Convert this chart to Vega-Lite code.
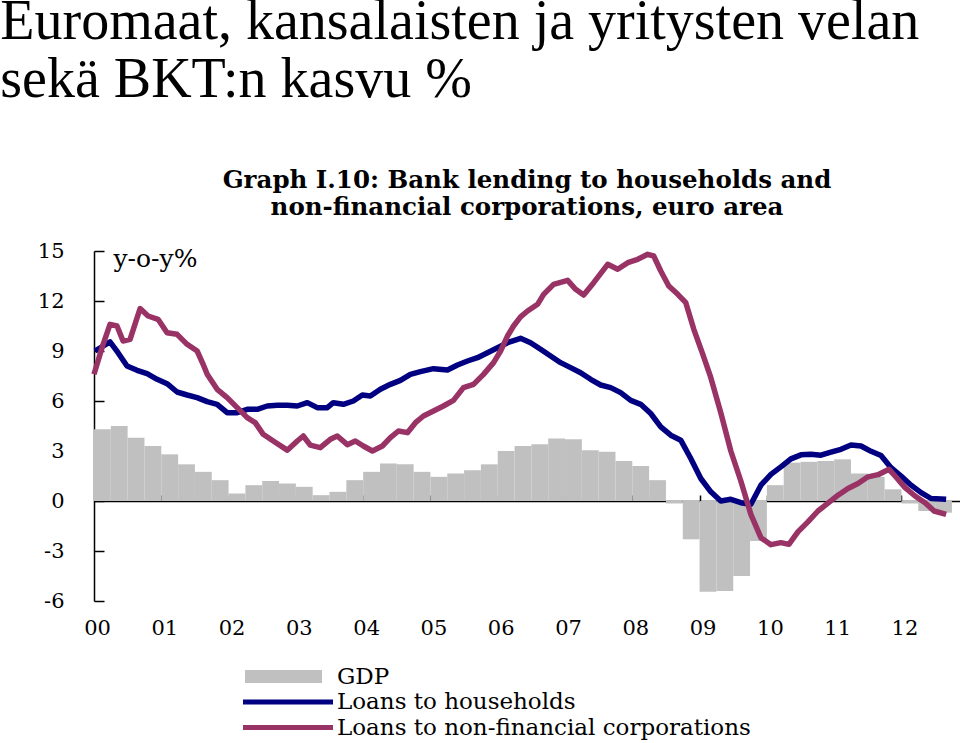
{
  "$schema": "https://vega.github.io/schema/vega-lite/v6.json",
  "background": "white",
  "padding": {"left": 0, "top": -7, "right": 0, "bottom": 0},
  "title": {
    "text": ["Euromaat, kansalaisten ja yritysten velan", "sekä BKT:n kasvu %"],
    "anchor": "start",
    "font": "Liberation Serif",
    "fontSize": 56,
    "fontWeight": "normal",
    "color": "black",
    "lineHeight": 58,
    "dx": -37,
    "offset": 59
  },
  "config": {"view": {"stroke": null}, "concat": {"spacing": 0}},
  "datasets": {
    "gdp": [
      {"series": "GDP", "start": 2000.00, "end": 2000.25, "value": 4.3},
      {"series": "GDP", "start": 2000.25, "end": 2000.50, "value": 4.5},
      {"series": "GDP", "start": 2000.50, "end": 2000.75, "value": 3.8},
      {"series": "GDP", "start": 2000.75, "end": 2001.00, "value": 3.3},
      {"series": "GDP", "start": 2001.00, "end": 2001.25, "value": 2.8},
      {"series": "GDP", "start": 2001.25, "end": 2001.50, "value": 2.2},
      {"series": "GDP", "start": 2001.50, "end": 2001.75, "value": 1.75},
      {"series": "GDP", "start": 2001.75, "end": 2002.00, "value": 1.25},
      {"series": "GDP", "start": 2002.00, "end": 2002.25, "value": 0.45},
      {"series": "GDP", "start": 2002.25, "end": 2002.50, "value": 0.95},
      {"series": "GDP", "start": 2002.50, "end": 2002.75, "value": 1.2},
      {"series": "GDP", "start": 2002.75, "end": 2003.00, "value": 1.05},
      {"series": "GDP", "start": 2003.00, "end": 2003.25, "value": 0.85},
      {"series": "GDP", "start": 2003.25, "end": 2003.50, "value": 0.35},
      {"series": "GDP", "start": 2003.50, "end": 2003.75, "value": 0.55},
      {"series": "GDP", "start": 2003.75, "end": 2004.00, "value": 1.25},
      {"series": "GDP", "start": 2004.00, "end": 2004.25, "value": 1.75},
      {"series": "GDP", "start": 2004.25, "end": 2004.50, "value": 2.25},
      {"series": "GDP", "start": 2004.50, "end": 2004.75, "value": 2.2},
      {"series": "GDP", "start": 2004.75, "end": 2005.00, "value": 1.75},
      {"series": "GDP", "start": 2005.00, "end": 2005.25, "value": 1.45},
      {"series": "GDP", "start": 2005.25, "end": 2005.50, "value": 1.65},
      {"series": "GDP", "start": 2005.50, "end": 2005.75, "value": 1.85},
      {"series": "GDP", "start": 2005.75, "end": 2006.00, "value": 2.2},
      {"series": "GDP", "start": 2006.00, "end": 2006.25, "value": 3.0},
      {"series": "GDP", "start": 2006.25, "end": 2006.50, "value": 3.3},
      {"series": "GDP", "start": 2006.50, "end": 2006.75, "value": 3.4},
      {"series": "GDP", "start": 2006.75, "end": 2007.00, "value": 3.75},
      {"series": "GDP", "start": 2007.00, "end": 2007.25, "value": 3.7},
      {"series": "GDP", "start": 2007.25, "end": 2007.50, "value": 3.05},
      {"series": "GDP", "start": 2007.50, "end": 2007.75, "value": 2.95},
      {"series": "GDP", "start": 2007.75, "end": 2008.00, "value": 2.4},
      {"series": "GDP", "start": 2008.00, "end": 2008.25, "value": 2.1},
      {"series": "GDP", "start": 2008.25, "end": 2008.50, "value": 1.25},
      {"series": "GDP", "start": 2008.50, "end": 2008.75, "value": -0.15},
      {"series": "GDP", "start": 2008.75, "end": 2009.00, "value": -2.3},
      {"series": "GDP", "start": 2009.00, "end": 2009.25, "value": -5.45},
      {"series": "GDP", "start": 2009.25, "end": 2009.50, "value": -5.4},
      {"series": "GDP", "start": 2009.50, "end": 2009.75, "value": -4.5},
      {"series": "GDP", "start": 2009.75, "end": 2010.00, "value": -2.4},
      {"series": "GDP", "start": 2010.00, "end": 2010.25, "value": 0.95},
      {"series": "GDP", "start": 2010.25, "end": 2010.50, "value": 2.3},
      {"series": "GDP", "start": 2010.50, "end": 2010.75, "value": 2.35},
      {"series": "GDP", "start": 2010.75, "end": 2011.00, "value": 2.4},
      {"series": "GDP", "start": 2011.00, "end": 2011.25, "value": 2.5},
      {"series": "GDP", "start": 2011.25, "end": 2011.50, "value": 1.65},
      {"series": "GDP", "start": 2011.50, "end": 2011.75, "value": 1.45},
      {"series": "GDP", "start": 2011.75, "end": 2012.00, "value": 0.7},
      {"series": "GDP", "start": 2012.00, "end": 2012.25, "value": -0.15},
      {"series": "GDP", "start": 2012.25, "end": 2012.50, "value": -0.6},
      {"series": "GDP", "start": 2012.50, "end": 2012.75, "value": -0.7}
    ],
    "loans": [
      {"series": "Loans to households", "year": 2000.015, "value": 9.0},
      {"series": "Loans to households", "year": 2000.238, "value": 9.55},
      {"series": "Loans to households", "year": 2000.357, "value": 8.9},
      {"series": "Loans to households", "year": 2000.491, "value": 8.1},
      {"series": "Loans to households", "year": 2000.640, "value": 7.84},
      {"series": "Loans to households", "year": 2000.789, "value": 7.64},
      {"series": "Loans to households", "year": 2000.938, "value": 7.3},
      {"series": "Loans to households", "year": 2001.086, "value": 7.04},
      {"series": "Loans to households", "year": 2001.235, "value": 6.54},
      {"series": "Loans to households", "year": 2001.384, "value": 6.36},
      {"series": "Loans to households", "year": 2001.533, "value": 6.2},
      {"series": "Loans to households", "year": 2001.682, "value": 5.96},
      {"series": "Loans to households", "year": 2001.830, "value": 5.8},
      {"series": "Loans to households", "year": 2001.979, "value": 5.3},
      {"series": "Loans to households", "year": 2002.128, "value": 5.3},
      {"series": "Loans to households", "year": 2002.277, "value": 5.5},
      {"series": "Loans to households", "year": 2002.426, "value": 5.5},
      {"series": "Loans to households", "year": 2002.574, "value": 5.7},
      {"series": "Loans to households", "year": 2002.723, "value": 5.74},
      {"series": "Loans to households", "year": 2002.872, "value": 5.74},
      {"series": "Loans to households", "year": 2003.021, "value": 5.7},
      {"series": "Loans to households", "year": 2003.170, "value": 5.9},
      {"series": "Loans to households", "year": 2003.318, "value": 5.6},
      {"series": "Loans to households", "year": 2003.467, "value": 5.6},
      {"series": "Loans to households", "year": 2003.557, "value": 5.9},
      {"series": "Loans to households", "year": 2003.705, "value": 5.8},
      {"series": "Loans to households", "year": 2003.854, "value": 6.0},
      {"series": "Loans to households", "year": 2003.988, "value": 6.36},
      {"series": "Loans to households", "year": 2004.107, "value": 6.3},
      {"series": "Loans to households", "year": 2004.256, "value": 6.7},
      {"series": "Loans to households", "year": 2004.405, "value": 7.0},
      {"series": "Loans to households", "year": 2004.554, "value": 7.24},
      {"series": "Loans to households", "year": 2004.702, "value": 7.6},
      {"series": "Loans to households", "year": 2004.851, "value": 7.76},
      {"series": "Loans to households", "year": 2005.045, "value": 7.94},
      {"series": "Loans to households", "year": 2005.253, "value": 7.86},
      {"series": "Loans to households", "year": 2005.402, "value": 8.16},
      {"series": "Loans to households", "year": 2005.551, "value": 8.4},
      {"series": "Loans to households", "year": 2005.699, "value": 8.6},
      {"series": "Loans to households", "year": 2005.848, "value": 8.9},
      {"series": "Loans to households", "year": 2005.997, "value": 9.2},
      {"series": "Loans to households", "year": 2006.146, "value": 9.5},
      {"series": "Loans to households", "year": 2006.295, "value": 9.7},
      {"series": "Loans to households", "year": 2006.339, "value": 9.76},
      {"series": "Loans to households", "year": 2006.488, "value": 9.5},
      {"series": "Loans to households", "year": 2006.637, "value": 9.1},
      {"series": "Loans to households", "year": 2006.786, "value": 8.7},
      {"series": "Loans to households", "year": 2006.935, "value": 8.3},
      {"series": "Loans to households", "year": 2007.083, "value": 8.0},
      {"series": "Loans to households", "year": 2007.232, "value": 7.7},
      {"series": "Loans to households", "year": 2007.381, "value": 7.3},
      {"series": "Loans to households", "year": 2007.530, "value": 6.96},
      {"series": "Loans to households", "year": 2007.679, "value": 6.8},
      {"series": "Loans to households", "year": 2007.827, "value": 6.5},
      {"series": "Loans to households", "year": 2007.976, "value": 6.04},
      {"series": "Loans to households", "year": 2008.125, "value": 5.8},
      {"series": "Loans to households", "year": 2008.274, "value": 5.25},
      {"series": "Loans to households", "year": 2008.423, "value": 4.45},
      {"series": "Loans to households", "year": 2008.571, "value": 3.95},
      {"series": "Loans to households", "year": 2008.720, "value": 3.65},
      {"series": "Loans to households", "year": 2008.869, "value": 2.55},
      {"series": "Loans to households", "year": 2009.018, "value": 1.35},
      {"series": "Loans to households", "year": 2009.167, "value": 0.55},
      {"series": "Loans to households", "year": 2009.315, "value": 0.0},
      {"series": "Loans to households", "year": 2009.464, "value": 0.1},
      {"series": "Loans to households", "year": 2009.613, "value": -0.1},
      {"series": "Loans to households", "year": 2009.762, "value": -0.2},
      {"series": "Loans to households", "year": 2009.911, "value": 0.95},
      {"series": "Loans to households", "year": 2010.060, "value": 1.6},
      {"series": "Loans to households", "year": 2010.208, "value": 2.05},
      {"series": "Loans to households", "year": 2010.357, "value": 2.53},
      {"series": "Loans to households", "year": 2010.506, "value": 2.77},
      {"series": "Loans to households", "year": 2010.655, "value": 2.8},
      {"series": "Loans to households", "year": 2010.804, "value": 2.75},
      {"series": "Loans to households", "year": 2010.952, "value": 2.93},
      {"series": "Loans to households", "year": 2011.101, "value": 3.1},
      {"series": "Loans to households", "year": 2011.250, "value": 3.36},
      {"series": "Loans to households", "year": 2011.399, "value": 3.3},
      {"series": "Loans to households", "year": 2011.548, "value": 2.98},
      {"series": "Loans to households", "year": 2011.696, "value": 2.73},
      {"series": "Loans to households", "year": 2011.845, "value": 2.0},
      {"series": "Loans to households", "year": 2011.994, "value": 1.5},
      {"series": "Loans to households", "year": 2012.143, "value": 0.95},
      {"series": "Loans to households", "year": 2012.292, "value": 0.5},
      {"series": "Loans to households", "year": 2012.440, "value": 0.15},
      {"series": "Loans to households", "year": 2012.664, "value": 0.1},
      {"series": "Loans to non-financial corporations", "year": 2000.000, "value": 7.6},
      {"series": "Loans to non-financial corporations", "year": 2000.119, "value": 9.2},
      {"series": "Loans to non-financial corporations", "year": 2000.238, "value": 10.6},
      {"series": "Loans to non-financial corporations", "year": 2000.342, "value": 10.5},
      {"series": "Loans to non-financial corporations", "year": 2000.432, "value": 9.6},
      {"series": "Loans to non-financial corporations", "year": 2000.536, "value": 9.7},
      {"series": "Loans to non-financial corporations", "year": 2000.685, "value": 11.55},
      {"series": "Loans to non-financial corporations", "year": 2000.804, "value": 11.1},
      {"series": "Loans to non-financial corporations", "year": 2000.952, "value": 10.9},
      {"series": "Loans to non-financial corporations", "year": 2001.086, "value": 10.1},
      {"series": "Loans to non-financial corporations", "year": 2001.235, "value": 10.0},
      {"series": "Loans to non-financial corporations", "year": 2001.384, "value": 9.4},
      {"series": "Loans to non-financial corporations", "year": 2001.533, "value": 9.0},
      {"series": "Loans to non-financial corporations", "year": 2001.622, "value": 8.2},
      {"series": "Loans to non-financial corporations", "year": 2001.682, "value": 7.6},
      {"series": "Loans to non-financial corporations", "year": 2001.830, "value": 6.7},
      {"series": "Loans to non-financial corporations", "year": 2001.979, "value": 6.2},
      {"series": "Loans to non-financial corporations", "year": 2002.128, "value": 5.6},
      {"series": "Loans to non-financial corporations", "year": 2002.277, "value": 5.0},
      {"series": "Loans to non-financial corporations", "year": 2002.396, "value": 4.7},
      {"series": "Loans to non-financial corporations", "year": 2002.515, "value": 4.0},
      {"series": "Loans to non-financial corporations", "year": 2002.664, "value": 3.6},
      {"series": "Loans to non-financial corporations", "year": 2002.872, "value": 3.05},
      {"series": "Loans to non-financial corporations", "year": 2003.021, "value": 3.6},
      {"series": "Loans to non-financial corporations", "year": 2003.110, "value": 3.9},
      {"series": "Loans to non-financial corporations", "year": 2003.214, "value": 3.35},
      {"series": "Loans to non-financial corporations", "year": 2003.363, "value": 3.2},
      {"series": "Loans to non-financial corporations", "year": 2003.512, "value": 3.7},
      {"series": "Loans to non-financial corporations", "year": 2003.616, "value": 3.9},
      {"series": "Loans to non-financial corporations", "year": 2003.765, "value": 3.38},
      {"series": "Loans to non-financial corporations", "year": 2003.884, "value": 3.6},
      {"series": "Loans to non-financial corporations", "year": 2004.003, "value": 3.3},
      {"series": "Loans to non-financial corporations", "year": 2004.137, "value": 3.0},
      {"series": "Loans to non-financial corporations", "year": 2004.286, "value": 3.3},
      {"series": "Loans to non-financial corporations", "year": 2004.405, "value": 3.8},
      {"series": "Loans to non-financial corporations", "year": 2004.524, "value": 4.2},
      {"series": "Loans to non-financial corporations", "year": 2004.658, "value": 4.1},
      {"series": "Loans to non-financial corporations", "year": 2004.777, "value": 4.7},
      {"series": "Loans to non-financial corporations", "year": 2004.896, "value": 5.1},
      {"series": "Loans to non-financial corporations", "year": 2005.045, "value": 5.4},
      {"series": "Loans to non-financial corporations", "year": 2005.193, "value": 5.7},
      {"series": "Loans to non-financial corporations", "year": 2005.342, "value": 6.04},
      {"series": "Loans to non-financial corporations", "year": 2005.491, "value": 6.8},
      {"series": "Loans to non-financial corporations", "year": 2005.640, "value": 7.0},
      {"series": "Loans to non-financial corporations", "year": 2005.789, "value": 7.6},
      {"series": "Loans to non-financial corporations", "year": 2005.938, "value": 8.3},
      {"series": "Loans to non-financial corporations", "year": 2006.042, "value": 9.0},
      {"series": "Loans to non-financial corporations", "year": 2006.146, "value": 9.9},
      {"series": "Loans to non-financial corporations", "year": 2006.235, "value": 10.5},
      {"series": "Loans to non-financial corporations", "year": 2006.339, "value": 11.05},
      {"series": "Loans to non-financial corporations", "year": 2006.443, "value": 11.4},
      {"series": "Loans to non-financial corporations", "year": 2006.592, "value": 11.8},
      {"series": "Loans to non-financial corporations", "year": 2006.682, "value": 12.4},
      {"series": "Loans to non-financial corporations", "year": 2006.830, "value": 13.0},
      {"series": "Loans to non-financial corporations", "year": 2007.039, "value": 13.24},
      {"series": "Loans to non-financial corporations", "year": 2007.158, "value": 12.7},
      {"series": "Loans to non-financial corporations", "year": 2007.277, "value": 12.36},
      {"series": "Loans to non-financial corporations", "year": 2007.426, "value": 13.1},
      {"series": "Loans to non-financial corporations", "year": 2007.634, "value": 14.2},
      {"series": "Loans to non-financial corporations", "year": 2007.783, "value": 13.9},
      {"series": "Loans to non-financial corporations", "year": 2007.932, "value": 14.3},
      {"series": "Loans to non-financial corporations", "year": 2008.080, "value": 14.5},
      {"series": "Loans to non-financial corporations", "year": 2008.229, "value": 14.8},
      {"series": "Loans to non-financial corporations", "year": 2008.318, "value": 14.7},
      {"series": "Loans to non-financial corporations", "year": 2008.423, "value": 13.8},
      {"series": "Loans to non-financial corporations", "year": 2008.542, "value": 12.9},
      {"series": "Loans to non-financial corporations", "year": 2008.676, "value": 12.4},
      {"series": "Loans to non-financial corporations", "year": 2008.795, "value": 11.9},
      {"series": "Loans to non-financial corporations", "year": 2008.914, "value": 10.3},
      {"series": "Loans to non-financial corporations", "year": 2009.048, "value": 8.8},
      {"series": "Loans to non-financial corporations", "year": 2009.167, "value": 7.4},
      {"series": "Loans to non-financial corporations", "year": 2009.315, "value": 5.3},
      {"series": "Loans to non-financial corporations", "year": 2009.464, "value": 3.0},
      {"series": "Loans to non-financial corporations", "year": 2009.613, "value": 1.2},
      {"series": "Loans to non-financial corporations", "year": 2009.762, "value": -0.8},
      {"series": "Loans to non-financial corporations", "year": 2009.911, "value": -2.2},
      {"series": "Loans to non-financial corporations", "year": 2010.060, "value": -2.62},
      {"series": "Loans to non-financial corporations", "year": 2010.208, "value": -2.5},
      {"series": "Loans to non-financial corporations", "year": 2010.327, "value": -2.6},
      {"series": "Loans to non-financial corporations", "year": 2010.461, "value": -1.85},
      {"series": "Loans to non-financial corporations", "year": 2010.610, "value": -1.25},
      {"series": "Loans to non-financial corporations", "year": 2010.759, "value": -0.6},
      {"series": "Loans to non-financial corporations", "year": 2010.908, "value": -0.13},
      {"series": "Loans to non-financial corporations", "year": 2011.057, "value": 0.35},
      {"series": "Loans to non-financial corporations", "year": 2011.205, "value": 0.75},
      {"series": "Loans to non-financial corporations", "year": 2011.354, "value": 1.05},
      {"series": "Loans to non-financial corporations", "year": 2011.503, "value": 1.45},
      {"series": "Loans to non-financial corporations", "year": 2011.652, "value": 1.58},
      {"series": "Loans to non-financial corporations", "year": 2011.815, "value": 1.9},
      {"series": "Loans to non-financial corporations", "year": 2011.905, "value": 1.5},
      {"series": "Loans to non-financial corporations", "year": 2012.054, "value": 0.8},
      {"series": "Loans to non-financial corporations", "year": 2012.202, "value": 0.3},
      {"series": "Loans to non-financial corporations", "year": 2012.351, "value": -0.1},
      {"series": "Loans to non-financial corporations", "year": 2012.485, "value": -0.6},
      {"series": "Loans to non-financial corporations", "year": 2012.664, "value": -0.8}
    ]
  },
  "vconcat": [
    {
      "width": 866,
      "height": 350,
      "title": {
        "text": ["Graph I.10: Bank lending to households and", "non-financial corporations, euro area"],
        "anchor": "middle",
        "font": "DejaVu Serif",
        "fontSize": 24.5,
        "fontWeight": "bold",
        "color": "black",
        "lineHeight": 27,
        "offset": 20
      },
      "layer": [
        {
          "data": {"name": "gdp"},
          "mark": {"type": "bar"},
          "encoding": {
            "x": {
              "field": "start",
              "type": "quantitative",
              "scale": {"domain": [2000, 2012.87], "nice": false, "zero": false},
              "axis": {
                "orient": "bottom",
                "values": [2000, 2001, 2002, 2003, 2004, 2005, 2006, 2007, 2008, 2009, 2010, 2011, 2012],
                "format": "d",
                "labelExpr": "slice(datum.label, 2)",
                "domain": false,
                "ticks": false,
                "grid": false,
                "labelFont": "DejaVu Serif",
                "labelFontSize": 21,
                "labelColor": "black",
                "labelPadding": 16,
                "labelOffset": 3,
                "labelFlush": false,
                "title": null
              }
            },
            "x2": {"field": "end"},
            "y": {
              "field": "value",
              "type": "quantitative",
              "scale": {"domain": [-6, 15], "nice": false, "zero": false},
              "axis": {
                "values": [-6, -3, 0, 3, 6, 9, 12, 15],
                "labelExpr": "toString(datum.value)",
                "domain": true,
                "domainColor": "black",
                "domainWidth": 1.5,
                "ticks": true,
                "tickSize": -10,
                "tickColor": "black",
                "tickWidth": 1.5,
                "grid": false,
                "labelFont": "DejaVu Serif",
                "labelFontSize": 21,
                "labelColor": "black",
                "labelPadding": 40,
                "labelFlush": false,
                "title": "y-o-y%",
                "titleAngle": 0,
                "titleX": 19,
                "titleY": 7,
                "titleAlign": "left",
                "titleBaseline": "middle",
                "titleFont": "DejaVu Serif",
                "titleFontSize": 25,
                "titleFontWeight": "normal",
                "titleColor": "black"
              }
            },
            "y2": {"datum": 0},
            "color": {
              "field": "series",
              "type": "nominal",
              "scale": {
                "domain": ["GDP", "Loans to households", "Loans to non-financial corporations"],
                "range": ["#c0c0c0", "#000080", "#993366"]
              },
              "legend": {
                "orient": "none",
                "legendX": 149,
                "legendY": 413,
                "title": null,
                "symbolType": "stroke",
                "symbolSize": 100,
                "symbolStrokeWidth": 5,
                "symbolOpacity": 1,
                "symbolOffset": 33.5,
                "clipHeight": 25,
                "labelFont": "DejaVu Serif",
                "labelFontSize": 23,
                "labelColor": "black",
                "labelOffset": 37.5,
                "labelLimit": 0,
                "rowPadding": 0.5,
                "padding": 0,
                "encode": {
                  "symbols": {
                    "update": {
                      "shape": {"signal": "datum.value === 'GDP' ? 'M-8.6,0H6.8' : 'M-9,0H9'"},
                      "strokeWidth": {"signal": "datum.value === 'GDP' ? 13 : 5"},
                      "stroke": {"scale": "color", "field": "value"},
                      "strokeCap": {"value": "butt"}
                    }
                  }
                }
              }
            }
          }
        },
        {
          "data": {"name": "loans"},
          "mark": {"type": "line", "strokeWidth": 5.5, "strokeJoin": "round"},
          "encoding": {
            "x": {
              "field": "year",
              "type": "quantitative",
              "axis": {
                "orient": "bottom",
                "offset": -100,
                "values": [2001, 2002, 2003, 2004, 2005, 2006, 2007, 2008, 2009, 2010, 2011, 2012],
                "labels": false,
                "domain": true,
                "domainColor": "black",
                "domainWidth": 1.5,
                "ticks": true,
                "tickSize": -6,
                "tickColor": "black",
                "tickWidth": 1.5,
                "grid": false,
                "title": null
              }
            },
            "y": {"field": "value", "type": "quantitative"},
            "color": {"field": "series", "type": "nominal"}
          }
        }
      ],
      "resolve": {"axis": {"x": "independent"}}
    }
  ]
}
